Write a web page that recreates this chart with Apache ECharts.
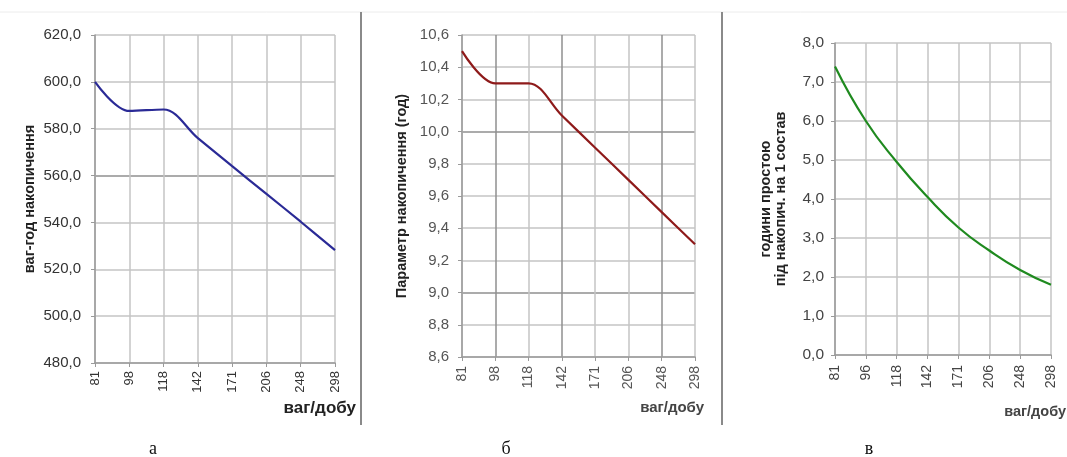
<!DOCTYPE html>
<html>
<head>
<meta charset="utf-8">
<script src="https://cdn.jsdelivr.net/npm/echarts@6/dist/echarts.min.js"></script>
<style>
  html, body { margin: 0; padding: 0; background: #fff; }
  #chart { width: 1067px; height: 457px; }
</style>
</head>
<body>
<div id="chart"></div>
<script>
// categories (ваг/добу)
const categoriesA = ['81', '98', '118', '142', '171', '206', '248', '298'];
const categoriesB = ['81', '98', '118', '142', '171', '206', '248', '298'];
const categoriesC = ['81', '96', '118', '142', '171', '206', '248', '298'];

// series values
const valuesA = [600.0, 587.6, 588.2, 576.0, 564.0, 552.2, 540.3, 528.2];
const valuesB = [10.50, 10.30, 10.30, 10.10, 9.90, 9.70, 9.50, 9.30];
const valuesC = [7.40, 6.00, 4.95, 4.05, 3.27, 2.68, 2.18, 1.80];

// y tick labels
const ticksA = [480, 500, 520, 540, 560, 580, 600, 620];
const ticksB = [8.6, 8.8, 9.0, 9.2, 9.4, 9.6, 9.8, 10.0, 10.2, 10.4, 10.6];
const ticksC = [0, 1, 2, 3, 4, 5, 6, 7, 8];

// heavier grid lines
const darkA  = [560];
const darkB  = [9.0, 10.0];
const darkXB = ['98', '142', '248'];

const names = {
    yA: 'ваг-год накопичення',
    yB: 'Параметр накопичення (год)',
    yC: 'години простою\nпід накопич. на 1 состав',
    x : 'ваг/добу'
};

const FONT  = 'Liberation Sans';
const LIGHT = '#c4c4c4';
const DARK  = '#8f8f8f';

const comma = v => v.toFixed(1).replace('.', ',');

function gridColors(ticks, dark) {
    return ticks.map(t => dark.indexOf(t) >= 0 ? DARK : LIGHT);
}

function xAxisFor(idx, cats, fontSize, margin, color, dark) {
    return {
        type: 'category',
        gridIndex: idx,
        data: cats,
        boundaryGap: false,
        axisLine: { lineStyle: { color: '#9a9a9a', width: 1.5 } },
        axisTick: { show: true, length: 4, lineStyle: { color: '#9a9a9a' } },
        axisLabel: { rotate: 90, margin: margin, fontFamily: FONT, fontSize: fontSize, color: color },
        splitLine: { show: true, lineStyle: { color: gridColors(cats, dark || []), width: 1.5 } }
    };
}

function yAxisFor(idx, ticks, name, gap, fontSize, margin, color, dark) {
    return {
        type: 'value',
        gridIndex: idx,
        min: ticks[0],
        max: ticks[ticks.length - 1],
        interval: +(ticks[1] - ticks[0]).toFixed(2),
        name: name,
        nameLocation: 'middle',
        nameGap: gap,
        nameTextStyle: { fontFamily: FONT, fontWeight: 'bold', fontSize: 14.5, color: '#222', lineHeight: 15 },
        axisLine: { show: true, lineStyle: { color: '#9a9a9a', width: 1.5 } },
        axisTick: { show: true, length: 4, lineStyle: { color: '#9a9a9a' } },
        axisLabel: { margin: margin, fontFamily: FONT, fontSize: fontSize, color: color, formatter: comma },
        splitLine: { show: true, lineStyle: { color: gridColors(ticks.map(t => +t.toFixed(1)), dark || []), width: 1.5 } }
    };
}

function lineFor(idx, values, color, smooth) {
    return {
        type: 'line',
        xAxisIndex: idx,
        yAxisIndex: idx,
        data: values,
        smooth: smooth,
        symbol: 'none',
        lineStyle: { color: color, width: 2.2 }
    };
}

const option = {
    backgroundColor: '#fff',
    animation: false,
    grid: [
        { left: 95,  top: 35, width: 240, height: 328 },
        { left: 462, top: 35, width: 233, height: 322 },
        { left: 835, top: 43, width: 216, height: 312 }
    ],
    xAxis: [
        xAxisFor(0, categoriesA, 13, 8, '#333'),
        xAxisFor(1, categoriesB, 14, 9, '#555', darkXB),
        xAxisFor(2, categoriesC, 14, 10, '#444')
    ],
    yAxis: [
        yAxisFor(0, ticksA, names.yA, 58, 15, 14, '#333', darkA),
        yAxisFor(1, ticksB, names.yB, 53, 15, 13, '#555', darkB),
        yAxisFor(2, ticksC, names.yC, 47, 15.5, 11, '#444')
    ],
    series: [
        lineFor(0, valuesA, '#2a2a96', 0.35),
        lineFor(1, valuesB, '#8e1a1a', 0.35),
        lineFor(2, valuesC, '#1f8a1f', 0.5)
    ],
    graphic: [
        { type: 'line', shape: { x1: 0, y1: 12, x2: 1067, y2: 12 }, style: { stroke: '#ececec', lineWidth: 1 } },
        { type: 'line', shape: { x1: 361, y1: 12, x2: 361, y2: 425 }, style: { stroke: '#8a8a8a', lineWidth: 2 } },
        { type: 'line', shape: { x1: 722, y1: 12, x2: 722, y2: 425 }, style: { stroke: '#8a8a8a', lineWidth: 2 } },
        { type: 'text', x: 356, y: 408, style: { text: names.x, font: 'bold 17px ' + FONT, fill: '#222', align: 'right', verticalAlign: 'middle' } },
        { type: 'text', x: 704, y: 408, style: { text: names.x, font: 'bold 15px ' + FONT, fill: '#444', align: 'right', verticalAlign: 'middle' } },
        { type: 'text', x: 1066, y: 412, style: { text: names.x, font: 'bold 14.5px ' + FONT, fill: '#444', align: 'right', verticalAlign: 'middle' } },
        { type: 'text', x: 153, y: 449, style: { text: 'а', font: '18px Liberation Serif', fill: '#111', align: 'center', verticalAlign: 'middle' } },
        { type: 'text', x: 506, y: 449, style: { text: 'б', font: '18px Liberation Serif', fill: '#111', align: 'center', verticalAlign: 'middle' } },
        { type: 'text', x: 869, y: 449, style: { text: 'в', font: '18px Liberation Serif', fill: '#111', align: 'center', verticalAlign: 'middle' } }
    ]
};

const chart = echarts.init(document.querySelector('#chart'));
chart.setOption(option);
</script>
</body>
</html>
